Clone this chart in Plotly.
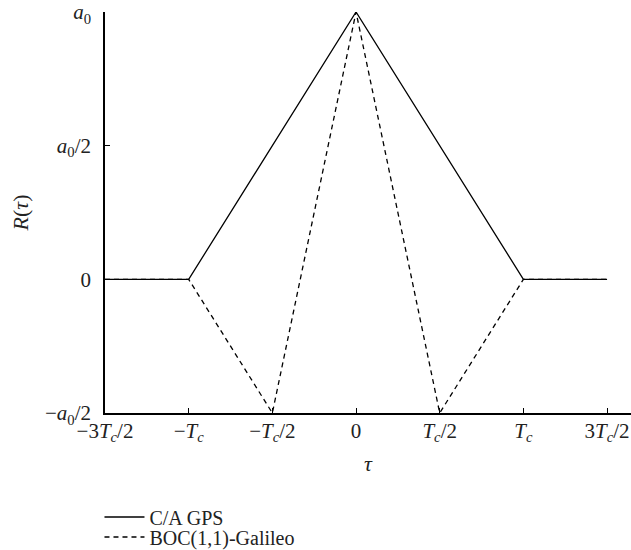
import plotly.graph_objects as go

# Normalised delay (units of chip period Tc) and autocorrelation (units of a0)
tau_ca = [-1.5, -1.0, 0.0, 1.0, 1.5]
r_ca = [0.0, 0.0, 1.0, 0.0, 0.0]

tau_boc = [-1.5, -1.0, -0.5, 0.0, 0.5, 1.0, 1.5]
r_boc = [0.0, 0.0, -0.5, 1.0, -0.5, 0.0, 0.0]

x_tick_vals = [-1.5, -1.0, -0.5, 0.0, 0.5, 1.0, 1.5]
x_tick_text = ["−3<i>T<sub>c</sub></i>/2", "−<i>T<sub>c</sub></i>", "−<i>T<sub>c</sub></i>/2", "0",
               "<i>T<sub>c</sub></i>/2", "<i>T<sub>c</sub></i>", "3<i>T<sub>c</sub></i>/2"]
y_tick_vals = [-0.5, 0.0, 0.5, 1.0]
y_tick_text = ["−<i>a</i><sub>0</sub>/2", "0", "<i>a</i><sub>0</sub>/2", "<i>a</i><sub>0</sub>"]

FONT = "Liberation Serif"
INK = "#222"

fig = go.Figure()
fig.add_trace(go.Scatter(x=tau_ca, y=r_ca, mode="lines", name="C/A GPS",
                         line=dict(color="black", width=1.3), legend="legend"))
fig.add_trace(go.Scatter(x=tau_boc, y=r_boc, mode="lines", name="BOC(1,1)-Galileo",
                         line=dict(color="black", width=1.3, dash="5px,4px"), legend="legend2"))

axis_common = dict(showline=True, linecolor="black", linewidth=1.5, ticks="inside",
                   ticklen=5, tickcolor="black", tickwidth=1, showgrid=False,
                   zeroline=False, tickfont=dict(family=FONT, size=21, color=INK))

legend_common = dict(xanchor="left", yanchor="middle", itemwidth=40,
                     font=dict(family=FONT, size=20, color=INK),
                     bgcolor="rgba(0,0,0,0)", borderwidth=0)

fig.update_layout(
    width=631, height=550,
    margin=dict(l=105, r=0, t=12, b=137, autoexpand=False),
    paper_bgcolor="white", plot_bgcolor="white",
    font=dict(family=FONT, size=20, color=INK),
    showlegend=True,
    legend=dict(x=-0.0105, y=-0.2594, **legend_common),
    legend2=dict(x=-0.0105, y=-0.3092, **legend_common),
    xaxis=dict(range=[-1.5, 1.643], tickvals=x_tick_vals, ticktext=x_tick_text,
               ticklabelstandoff=-2,
               title=dict(text="<i>τ</i>", font=dict(family=FONT, size=22, color=INK), standoff=11),
               **axis_common),
    yaxis=dict(range=[-0.5, 1.0], tickvals=y_tick_vals, ticktext=y_tick_text,
               ticklabelstandoff=8,
               title=dict(text="<i>R</i>(<i>τ</i>)", font=dict(family=FONT, size=22, color=INK), standoff=10),
               **axis_common),
)

fig.write_html("out.html")
